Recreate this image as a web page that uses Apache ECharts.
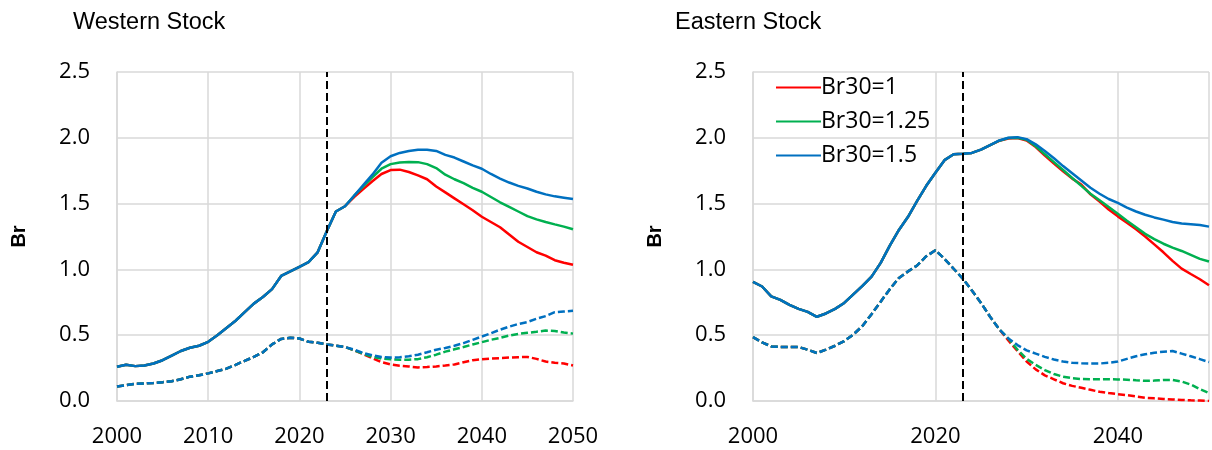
<!DOCTYPE html>
<html>
<head>
<meta charset="utf-8">
<script src="https://cdn.jsdelivr.net/npm/echarts@6/dist/echarts.min.js"></script>
<style>
html,body{margin:0;padding:0;background:#fff;}
#chart{width:1212px;height:450px;}
</style>
</head>
<body>
<div id="chart"></div>
<script>
// ---------- DATA ----------
const years = [2000,2001,2002,2003,2004,2005,2006,2007,2008,2009,2010,2011,2012,2013,2014,2015,2016,2017,2018,2019,
  2020,2021,2022,2023,2024,2025,2026,2027,2028,2029,2030,2031,2032,2033,2034,2035,2036,2037,2038,2039,
  2040,2041,2042,2043,2044,2045,2046,2047,2048,2049,2050];
const scenarioNames = ['Br30=1', 'Br30=1.25', 'Br30=1.5'];
const panelTitles = ['Western Stock', 'Eastern Stock'];
const yAxisName = 'Br';
const projectionStart = [2023];

// Western stock: history 2000-2025, projections 2026-2050
const westSolidHist = [0.26,0.275,0.265,0.27,0.285,0.31,0.345,0.38,0.405,0.42,0.45,0.50,0.555,0.61,0.675,0.74,0.79,0.85,0.95,0.985,1.02,1.055,1.13,1.29,1.44,1.48];
const westSolidRed   = [1.55,1.61,1.67,1.725,1.755,1.758,1.74,1.715,1.685,1.63,1.585,1.54,1.495,1.45,1.40,1.36,1.32,1.265,1.21,1.17,1.13,1.105,1.07,1.05,1.035];
const westSolidGreen = [1.56,1.63,1.70,1.765,1.80,1.812,1.816,1.815,1.80,1.77,1.72,1.685,1.655,1.62,1.59,1.55,1.51,1.475,1.44,1.405,1.38,1.36,1.342,1.325,1.305];
const westSolidBlue  = [1.56,1.64,1.72,1.81,1.86,1.885,1.90,1.91,1.91,1.90,1.87,1.85,1.82,1.79,1.765,1.725,1.69,1.66,1.635,1.615,1.59,1.57,1.555,1.545,1.535];
const westDashHist = [0.11,0.12,0.13,0.133,0.137,0.143,0.15,0.165,0.185,0.195,0.21,0.228,0.246,0.275,0.305,0.335,0.37,0.43,0.472,0.48,0.475,0.45,0.442,0.43,0.42,0.41];
const westDashRed   = [0.385,0.355,0.325,0.295,0.278,0.268,0.262,0.255,0.258,0.263,0.27,0.278,0.295,0.31,0.317,0.322,0.326,0.33,0.333,0.335,0.32,0.30,0.29,0.285,0.27];
const westDashGreen = [0.385,0.36,0.335,0.322,0.317,0.314,0.314,0.318,0.333,0.352,0.375,0.393,0.41,0.43,0.447,0.465,0.48,0.497,0.51,0.518,0.526,0.535,0.532,0.52,0.512];
const westDashBlue  = [0.39,0.365,0.348,0.335,0.33,0.333,0.34,0.352,0.37,0.39,0.403,0.42,0.44,0.465,0.49,0.515,0.542,0.565,0.585,0.60,0.625,0.645,0.675,0.68,0.685];

// Eastern stock: solid history 2000-2024, projections 2025-2050
const eastSolidHist = [0.905,0.87,0.795,0.768,0.73,0.70,0.677,0.64,0.665,0.70,0.745,0.81,0.875,0.945,1.05,1.18,1.30,1.40,1.52,1.635,1.735,1.83,1.875,1.879,1.885];
const eastSolidRed   = [1.91,1.945,1.977,1.995,1.998,1.98,1.93,1.865,1.805,1.745,1.69,1.645,1.57,1.515,1.455,1.403,1.355,1.305,1.25,1.19,1.13,1.065,1.006,0.965,0.925,0.88];
const eastSolidGreen = [1.91,1.945,1.978,1.998,2.0,1.985,1.935,1.875,1.815,1.755,1.695,1.635,1.575,1.525,1.475,1.423,1.37,1.32,1.27,1.23,1.195,1.165,1.14,1.11,1.08,1.06];
const eastSolidBlue  = [1.91,1.945,1.98,2.0,2.005,1.99,1.95,1.90,1.845,1.785,1.73,1.675,1.62,1.575,1.535,1.505,1.47,1.44,1.415,1.395,1.378,1.36,1.348,1.343,1.338,1.325];
// Eastern dashed: history 2000-2027, projections 2028-2050
const eastDashHist = [0.485,0.445,0.415,0.41,0.41,0.41,0.39,0.365,0.39,0.42,0.455,0.505,0.57,0.66,0.755,0.85,0.935,0.985,1.03,1.10,1.145,1.08,1.005,0.93,0.84,0.745,0.64,0.545];
const eastDashRed   = [0.46,0.38,0.30,0.24,0.195,0.165,0.135,0.115,0.10,0.085,0.07,0.06,0.052,0.045,0.035,0.025,0.02,0.015,0.012,0.008,0.005,0.003,0.0];
const eastDashGreen = [0.475,0.39,0.32,0.275,0.235,0.205,0.185,0.173,0.167,0.165,0.165,0.165,0.164,0.162,0.157,0.153,0.155,0.16,0.16,0.148,0.125,0.09,0.06];
const eastDashBlue  = [0.475,0.425,0.385,0.36,0.335,0.315,0.30,0.29,0.287,0.285,0.285,0.29,0.30,0.32,0.34,0.355,0.367,0.375,0.38,0.36,0.34,0.318,0.296];

const xTickInterval = [10, 20];
const yTicks = [0, 0.5, 1.0, 1.5, 2.0, 2.5];

// ---------- CHART ----------
const colors = ['#FF0000', '#00B050', '#0070C0'];
const labelFont = '"Open Sans", "Liberation Sans", sans-serif';
const titleFont = '"Liberation Sans", Arial, sans-serif';
const gridColor = '#D9D9D9';

function pairs(hist, proj) {
  const vals = hist.concat(proj);
  return vals.map((v, i) => [years[i], v]);
}

const panels = [
  { solidHist: westSolidHist, solid: [westSolidRed, westSolidGreen, westSolidBlue],
    dashHist: westDashHist, dash: [westDashRed, westDashGreen, westDashBlue] },
  { solidHist: eastSolidHist, solid: [eastSolidRed, eastSolidGreen, eastSolidBlue],
    dashHist: eastDashHist, dash: [eastDashRed, eastDashGreen, eastDashBlue] }
];

const gridLeft = [117, 753];
const grids = gridLeft.map(l => ({ left: l, top: 72, width: 456, height: 329 }));

const xAxes = [0, 1].map(i => ({
  type: 'value', gridIndex: i, min: years[0], max: years[years.length - 1], interval: xTickInterval[i],
  axisLine: { show: true, lineStyle: { color: gridColor, width: 1.5 } },
  axisTick: { show: false },
  splitLine: { show: true, lineStyle: { color: gridColor, width: 1.5 } },
  axisLabel: { color: '#000', fontSize: 22, fontFamily: labelFont, margin: 25,
    showMaxLabel: i === 0, formatter: v => String(v) }
}));

const yAxes = [0, 1].map(i => ({
  type: 'value', gridIndex: i, min: yTicks[0], max: yTicks[yTicks.length - 1], interval: 0.5,
  name: yAxisName, nameLocation: 'middle', nameRotate: 90, nameGap: 88,
  nameTextStyle: { color: '#000', fontSize: 20, fontWeight: 'bold', fontFamily: titleFont },
  axisLine: { show: true, lineStyle: { color: gridColor, width: 1.5 } },
  axisTick: { show: false },
  splitLine: { show: true, lineStyle: { color: gridColor, width: 1.5 } },
  axisLabel: { color: '#000', fontSize: 22, fontFamily: labelFont, margin: 27, formatter: v => v.toFixed(1) }
}));

const series = [];
panels.forEach((p, gi) => {
  for (let s = 0; s < 3; s++) {
    series.push({
      type: 'line', name: scenarioNames[s] + ' (dashed ' + gi + ')', xAxisIndex: gi, yAxisIndex: gi,
      data: pairs(p.dashHist, p.dash[s]), symbol: 'none', smooth: false,
      lineStyle: { color: colors[s], width: 2.5, type: [7, 3] }, itemStyle: { color: colors[s] },
      silent: true, animation: false
    });
  }
  for (let s = 0; s < 3; s++) {
    series.push({
      type: 'line', name: scenarioNames[s], xAxisIndex: gi, yAxisIndex: gi,
      data: pairs(p.solidHist, p.solid[s]), symbol: 'none', smooth: false,
      lineStyle: { color: colors[s], width: 2.5 }, itemStyle: { color: colors[s] },
      silent: true, animation: false
    });
  }
  series.push({
    type: 'line', name: 'marker' + gi, xAxisIndex: gi, yAxisIndex: gi, data: [], animation: false,
    markLine: {
      silent: true, symbol: 'none', label: { show: false },
      lineStyle: { color: '#000', width: 2, type: [8, 4] },
      data: projectionStart.map(x => ({ xAxis: x }))
    }
  });
});

const chart = echarts.init(document.getElementById('chart'), null, { renderer: 'canvas' });
chart.setOption({
  animation: false,
  backgroundColor: '#fff',
  title: [
    { text: panelTitles[0], left: 68, top: 6, textStyle: { color: '#000', fontSize: 23.5, fontWeight: 'normal', fontFamily: titleFont } },
    { text: panelTitles[1], left: 670, top: 6, textStyle: { color: '#000', fontSize: 23.5, fontWeight: 'normal', fontFamily: titleFont } }
  ],
  legend: {
    data: scenarioNames, orient: 'vertical', left: 770, top: 71, itemWidth: 45, itemHeight: 14, itemGap: 11,
    itemStyle: { opacity: 0 },
    lineStyle: { width: 2 },
    textStyle: { color: '#000', fontSize: 23, fontFamily: labelFont, padding: [0, 0, 0, -5] },
    selectedMode: false
  },
  grid: grids,
  xAxis: xAxes,
  yAxis: yAxes,
  series: series
});
</script>
</body>
</html>
